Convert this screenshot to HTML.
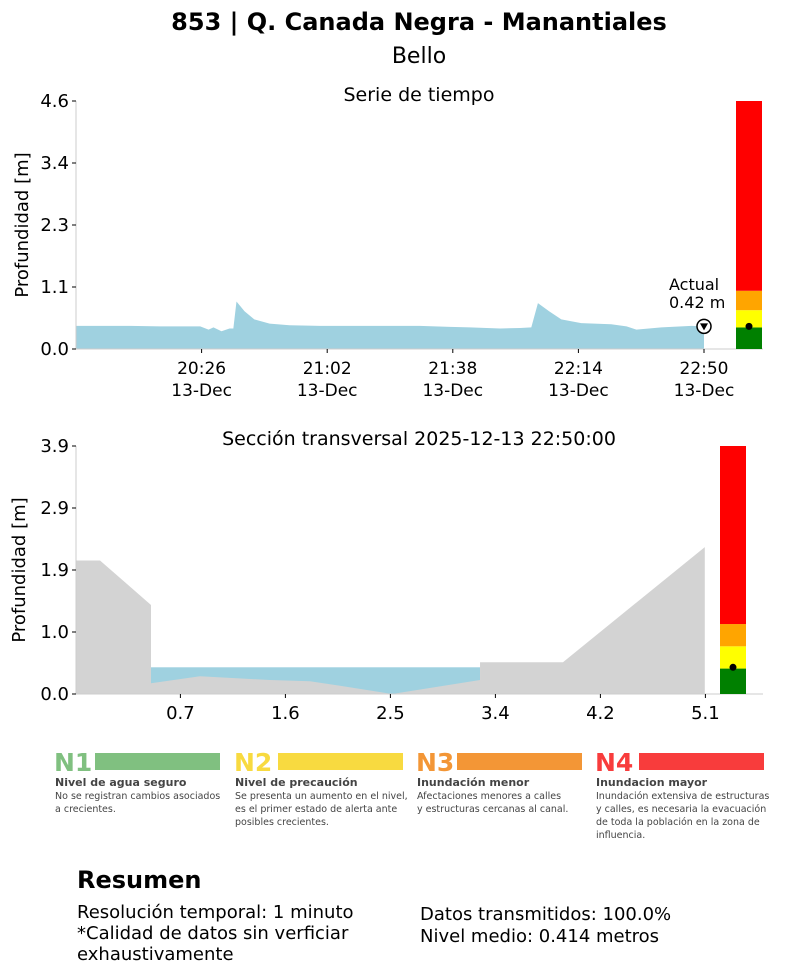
<!DOCTYPE html>
<html><head><meta charset="utf-8"><style>
body{margin:0;background:#fff;width:812px;height:973px;overflow:hidden;font-family:"Liberation Sans","DejaVu Sans",sans-serif}
svg text{font-family:"DejaVu Sans","Liberation Sans",sans-serif}
</style></head><body>
<svg id="c" width="812" height="973" xmlns="http://www.w3.org/2000/svg">
<text x="419" y="30" text-anchor="middle" font-size="24" font-weight="bold">853 | Q. Canada Negra - Manantiales</text>
<text x="419" y="63" text-anchor="middle" font-size="22">Bello</text>
<text x="419" y="101" text-anchor="middle" font-size="19">Serie de tiempo</text>
<text x="419" y="445" text-anchor="middle" font-size="19">Sección transversal 2025-12-13 22:50:00</text>
<text transform="translate(28,225) rotate(-90)" text-anchor="middle" font-size="18">Profundidad [m]</text>
<text transform="translate(25,570) rotate(-90)" text-anchor="middle" font-size="18">Profundidad [m]</text>
<g id="ts"></g>
<g id="xs"></g>
<g font-family="Liberation Sans,sans-serif">
 <g>
  <text x="54" y="771" font-size="25" font-weight="bold" fill="#80c080">N1</text>
  <rect x="95" y="753" width="125" height="17" fill="#80c080"/>
  <text x="55" y="786" font-size="11" font-weight="bold" fill="#444">Nivel de agua seguro</text>
  <text x="55" y="799" font-size="9.5" fill="#444">No se registran cambios asociados</text>
  <text x="55" y="812" font-size="9.5" fill="#444">a crecientes.</text>
 </g>
 <g>
  <text x="234" y="771" font-size="25" font-weight="bold" fill="#f8da40">N2</text>
  <rect x="278" y="753" width="125" height="17" fill="#f8da40"/>
  <text x="235" y="786" font-size="11" font-weight="bold" fill="#444">Nivel de precaución</text>
  <text x="235" y="799" font-size="9.5" fill="#444">Se presenta un aumento en el nivel,</text>
  <text x="235" y="812" font-size="9.5" fill="#444">es el primer estado de alerta ante</text>
  <text x="235" y="825" font-size="9.5" fill="#444">posibles crecientes.</text>
 </g>
 <g>
  <text x="416" y="771" font-size="25" font-weight="bold" fill="#f39636">N3</text>
  <rect x="457" y="753" width="125" height="17" fill="#f39636"/>
  <text x="417" y="786" font-size="11" font-weight="bold" fill="#444">Inundación menor</text>
  <text x="417" y="799" font-size="9.5" fill="#444">Afectaciones menores a calles</text>
  <text x="417" y="812" font-size="9.5" fill="#444">y estructuras cercanas al canal.</text>
 </g>
 <g>
  <text x="595" y="771" font-size="25" font-weight="bold" fill="#f83c3c">N4</text>
  <rect x="639" y="753" width="125" height="17" fill="#f83c3c"/>
  <text x="596" y="786" font-size="11" font-weight="bold" fill="#444">Inundacion mayor</text>
  <text x="596" y="799" font-size="9.5" fill="#444">Inundación extensiva de estructuras</text>
  <text x="596" y="812" font-size="9.5" fill="#444">y calles, es necesaria la evacuación</text>
  <text x="596" y="825" font-size="9.5" fill="#444">de toda la población en la zona de</text>
  <text x="596" y="838" font-size="9.5" fill="#444">influencia.</text>
 </g>
</g>
<g>
 <text x="77" y="888" font-size="24" font-weight="bold">Resumen</text>
 <text x="77" y="918" font-size="18">Resolución temporal: 1 minuto</text>
 <text x="77" y="939" font-size="18">*Calidad de datos sin verficiar</text>
 <text x="77" y="960" font-size="18">exhaustivamente</text>
 <text x="420" y="920" font-size="18">Datos transmitidos: 100.0%</text>
 <text x="420" y="942" font-size="18">Nivel medio: 0.414 metros</text>
</g>
</svg>
<script>
// Time series data (minutes since 19:50, depth in m)
const tsMinutes=[0,15.5,24.1,35.6,38,39.4,41.7,44,45.1,46,48.3,51.1,55.5,61.2,69.8,89.9,98.5,107.2,112.9,121.6,127.3,130.5,132.4,135.6,139.1,144.8,153.4,157.8,160.6,167.8,176.4,180];
const tsDepth=[0.43,0.43,0.42,0.42,0.36,0.40,0.33,0.38,0.38,0.88,0.70,0.55,0.47,0.44,0.43,0.43,0.43,0.41,0.40,0.38,0.39,0.40,0.85,0.70,0.55,0.48,0.46,0.42,0.36,0.40,0.43,0.42];
const tsYTicks=[0,1.15,2.3,3.45,4.6];
const tsYLabels=["0.0","1.1","2.3","3.4","4.6"];
const tsXTicks=[36,72,108,144,180];
const tsXLabels=["20:26","21:02","21:38","22:14","22:50"];
const currentDepth=0.42;
const levelBounds=[0.4,0.72,1.08,4.6];
const levelColors=["#008000","#ffff00","#ffa500","#ff0000"];
// Cross section data
const xsDist=[-0.17,0.03,0.455,0.455,0.863,1.447,1.78,2.03,2.463,3.197,3.197,3.888,5.07];
const xsElev=[2.1,2.1,1.4,0.17,0.28,0.22,0.2,0.13,0.0,0.22,0.5,0.5,2.31];
const waterRange=[0.455,3.197];
const waterLevel=0.42;
const xsYTicks=[0,0.975,1.95,2.925,3.9];
const xsYLabels=["0.0","1.0","1.9","2.9","3.9"];
const xsXTicks=[0.7,1.575,2.45,3.325,4.2,5.075];
const xsXLabels=["0.7","1.6","2.5","3.4","4.2","5.1"];
const xsLevelBounds=[0.4,0.75,1.1,3.9];

const NS="http://www.w3.org/2000/svg";
function mk(parent,tag,attrs){const e=document.createElementNS(NS,tag);for(const k in attrs)e.setAttribute(k,attrs[k]);parent.appendChild(e);return e;}

// ---- time series ----
const ts=document.getElementById('ts');
const tx=m=>76+m*(628/180);
const ty=v=>349-v*(248/4.6);
let d=`M${tx(tsMinutes[0])},${ty(0)}`;
tsMinutes.forEach((m,i)=>{d+=` L${tx(m)},${ty(tsDepth[i])}`;});
d+=` L${tx(tsMinutes[tsMinutes.length-1])},${ty(0)} Z`;
const area=mk(ts,'path',{d:d,fill:'#9fd1e0'});


mk(ts,'line',{x1:76,y1:101,x2:76,y2:349,stroke:'#ccc','stroke-width':1});
mk(ts,'line',{x1:76,y1:349,x2:763,y2:349,stroke:'#ccc','stroke-width':1});
tsYTicks.forEach((v,i)=>{
 mk(ts,'line',{x1:72,y1:ty(v),x2:76,y2:ty(v),stroke:'#000'});
 const t=mk(ts,'text',{x:69,y:ty(v)+6,'text-anchor':'end','font-size':18});t.textContent=tsYLabels[i];
 
 
});
tsXTicks.forEach((m,i)=>{
 mk(ts,'line',{x1:tx(m),y1:349,x2:tx(m),y2:353,stroke:'#000'});
 const t=mk(ts,'text',{x:tx(m),y:374,'text-anchor':'middle','font-size':17});t.textContent=tsXLabels[i];
 
 
 const t2=mk(ts,'text',{x:tx(m),y:396,'text-anchor':'middle','font-size':17});t2.textContent='13-Dec';
 
 
});
function levelBar(g,x,yf,bounds,val,name){
 let prev=0;
 bounds.forEach((b,i)=>{
  const r=mk(g,'rect',{x:x,y:yf(b),width:26,height:yf(prev)-yf(b),fill:levelColors[i]});
  
  
  prev=b;
 });
 const c=mk(g,'circle',{cx:x+13,cy:yf(val),r:3.5,fill:'#000'});
 
 
}
levelBar(ts,736,ty,levelBounds,currentDepth,'ts-level-bar');
const mkr=mk(ts,'circle',{cx:tx(180),cy:ty(currentDepth),r:7,fill:'#fff',stroke:'#000','stroke-width':1.5});


mk(ts,'path',{d:`M${tx(180)-4},${ty(currentDepth)-3} L${tx(180)+4},${ty(currentDepth)-3} L${tx(180)},${ty(currentDepth)+4} Z`,fill:'#000'});
const a1=mk(ts,'text',{x:669,y:290,'font-size':16});a1.textContent='Actual';


const a2=mk(ts,'text',{x:669,y:308,'font-size':16});a2.textContent=currentDepth.toFixed(2)+' m';



// ---- cross section ----
const xs=document.getElementById('xs');
const sx=u=>76+(u+0.17)*120;
const sy=v=>694-v*(248/3.9);
const w=mk(xs,'rect',{x:sx(waterRange[0]),y:sy(waterLevel),width:sx(waterRange[1])-sx(waterRange[0]),height:sy(0)-sy(waterLevel),fill:'#9fd1e0'});


let gd=`M${sx(xsDist[0])},${sy(0)}`;
xsDist.forEach((u,i)=>{gd+=` L${sx(u)},${sy(xsElev[i])}`;});
gd+=` L${sx(xsDist[xsDist.length-1])},${sy(0)} Z`;
const gr=mk(xs,'path',{d:gd,fill:'#d3d3d3'});


mk(xs,'line',{x1:76,y1:446,x2:76,y2:694,stroke:'#ccc'});
mk(xs,'line',{x1:76,y1:694,x2:763,y2:694,stroke:'#ccc'});
xsYTicks.forEach((v,i)=>{
 mk(xs,'line',{x1:72,y1:sy(v),x2:76,y2:sy(v),stroke:'#000'});
 const t=mk(xs,'text',{x:69,y:sy(v)+6,'text-anchor':'end','font-size':18});t.textContent=xsYLabels[i];
 
 
});
xsXTicks.forEach((u,i)=>{
 mk(xs,'line',{x1:sx(u),y1:694,x2:sx(u),y2:698,stroke:'#000'});
 const t=mk(xs,'text',{x:sx(u),y:719,'text-anchor':'middle','font-size':18});t.textContent=xsXLabels[i];
 
 
});
levelBar(xs,720,sy,xsLevelBounds,currentDepth,'xs-level-bar');
</script>
</body></html>
